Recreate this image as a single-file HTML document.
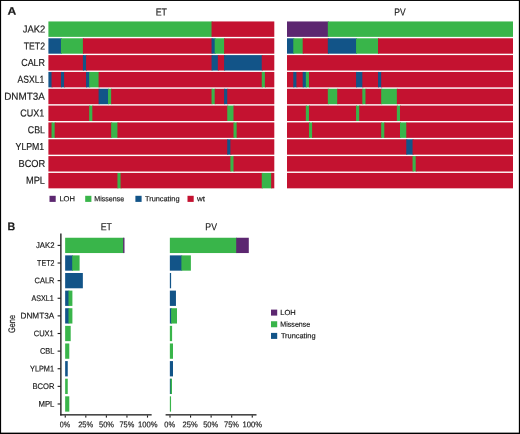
<!DOCTYPE html>
<html>
<head>
<meta charset="utf-8">
<title>Figure</title>
<style>
html, body { margin: 0; padding: 0; background: #ffffff; }
body { width: 520px; height: 434px; overflow: hidden; font-family: "Liberation Sans", sans-serif; }
svg { will-change: transform; display: block; position: absolute; left: 0; top: 0; }
svg text { text-rendering: geometricPrecision; font-family: "Liberation Sans", sans-serif; fill: #1a1a1a; stroke: #1a1a1a; stroke-width: 0.18px; }
</style>
</head>
<body>
<svg width="520" height="434" viewBox="0 0 520 434">
<rect x="0" y="0" width="520" height="434" fill="#ffffff"/>
<g shape-rendering="auto">
<rect x="48.4" y="21.45" width="164.15" height="15.42" fill="#39b54a"/>
<rect x="211.55" y="21.45" width="62.75" height="15.42" fill="#c41230"/>
<rect x="48.4" y="38.28" width="13.55" height="15.42" fill="#125488"/>
<rect x="60.95" y="38.28" width="22.96" height="15.42" fill="#39b54a"/>
<rect x="82.91" y="38.28" width="129.64" height="15.42" fill="#c41230"/>
<rect x="211.55" y="38.28" width="4.14" height="15.42" fill="#125488"/>
<rect x="214.69" y="38.28" width="10.41" height="15.42" fill="#39b54a"/>
<rect x="224.1" y="38.28" width="50.2" height="15.42" fill="#c41230"/>
<rect x="48.4" y="55.11" width="35.51" height="15.42" fill="#c41230"/>
<rect x="82.91" y="55.11" width="4.14" height="15.42" fill="#125488"/>
<rect x="86.05" y="55.11" width="126.5" height="15.42" fill="#c41230"/>
<rect x="211.55" y="55.11" width="7.28" height="15.42" fill="#125488"/>
<rect x="217.83" y="55.11" width="7.28" height="15.42" fill="#c41230"/>
<rect x="224.1" y="55.11" width="38.65" height="15.42" fill="#125488"/>
<rect x="261.75" y="55.11" width="12.55" height="15.42" fill="#c41230"/>
<rect x="48.4" y="71.94" width="4.14" height="15.42" fill="#125488"/>
<rect x="51.54" y="71.94" width="10.41" height="15.42" fill="#c41230"/>
<rect x="60.95" y="71.94" width="4.14" height="15.42" fill="#125488"/>
<rect x="64.09" y="71.94" width="22.96" height="15.42" fill="#c41230"/>
<rect x="86.05" y="71.94" width="4.14" height="15.42" fill="#125488"/>
<rect x="89.19" y="71.94" width="10.41" height="15.42" fill="#39b54a"/>
<rect x="98.6" y="71.94" width="164.15" height="15.42" fill="#c41230"/>
<rect x="261.75" y="71.94" width="4.14" height="15.42" fill="#39b54a"/>
<rect x="264.89" y="71.94" width="9.41" height="15.42" fill="#c41230"/>
<rect x="48.4" y="88.77" width="51.2" height="15.42" fill="#c41230"/>
<rect x="98.6" y="88.77" width="10.41" height="15.42" fill="#125488"/>
<rect x="108.01" y="88.77" width="4.14" height="15.42" fill="#39b54a"/>
<rect x="111.15" y="88.77" width="101.4" height="15.42" fill="#c41230"/>
<rect x="211.55" y="88.77" width="4.14" height="15.42" fill="#39b54a"/>
<rect x="214.69" y="88.77" width="10.41" height="15.42" fill="#c41230"/>
<rect x="224.1" y="88.77" width="4.14" height="15.42" fill="#125488"/>
<rect x="227.24" y="88.77" width="47.06" height="15.42" fill="#c41230"/>
<rect x="48.4" y="105.6" width="41.79" height="15.42" fill="#c41230"/>
<rect x="89.19" y="105.6" width="4.14" height="15.42" fill="#39b54a"/>
<rect x="92.33" y="105.6" width="135.91" height="15.42" fill="#c41230"/>
<rect x="227.24" y="105.6" width="7.28" height="15.42" fill="#39b54a"/>
<rect x="233.51" y="105.6" width="40.79" height="15.42" fill="#c41230"/>
<rect x="48.4" y="122.43" width="4.14" height="15.42" fill="#c41230"/>
<rect x="51.54" y="122.43" width="4.14" height="15.42" fill="#39b54a"/>
<rect x="54.67" y="122.43" width="57.48" height="15.42" fill="#c41230"/>
<rect x="111.15" y="122.43" width="7.28" height="15.42" fill="#39b54a"/>
<rect x="117.43" y="122.43" width="117.09" height="15.42" fill="#c41230"/>
<rect x="233.51" y="122.43" width="4.14" height="15.42" fill="#39b54a"/>
<rect x="236.65" y="122.43" width="37.65" height="15.42" fill="#c41230"/>
<rect x="48.4" y="139.26" width="179.84" height="15.42" fill="#c41230"/>
<rect x="227.24" y="139.26" width="4.14" height="15.42" fill="#125488"/>
<rect x="230.38" y="139.26" width="43.92" height="15.42" fill="#c41230"/>
<rect x="48.4" y="156.09" width="182.98" height="15.42" fill="#c41230"/>
<rect x="230.38" y="156.09" width="4.14" height="15.42" fill="#39b54a"/>
<rect x="233.51" y="156.09" width="40.79" height="15.42" fill="#c41230"/>
<rect x="48.4" y="172.92" width="70.03" height="15.42" fill="#c41230"/>
<rect x="117.43" y="172.92" width="4.14" height="15.42" fill="#39b54a"/>
<rect x="120.56" y="172.92" width="142.19" height="15.42" fill="#c41230"/>
<rect x="261.75" y="172.92" width="10.41" height="15.42" fill="#39b54a"/>
<rect x="271.16" y="172.92" width="3.14" height="15.42" fill="#c41230"/>
<rect x="287" y="21.45" width="41.81" height="15.42" fill="#5c2770"/>
<rect x="327.81" y="21.45" width="185.19" height="15.42" fill="#39b54a"/>
<rect x="287" y="38.28" width="7.28" height="15.42" fill="#125488"/>
<rect x="293.28" y="38.28" width="10.42" height="15.42" fill="#39b54a"/>
<rect x="302.69" y="38.28" width="26.11" height="15.42" fill="#c41230"/>
<rect x="327.81" y="38.28" width="29.25" height="15.42" fill="#125488"/>
<rect x="356.06" y="38.28" width="22.97" height="15.42" fill="#39b54a"/>
<rect x="378.03" y="38.28" width="134.97" height="15.42" fill="#c41230"/>
<rect x="287" y="55.11" width="226" height="15.42" fill="#c41230"/>
<rect x="287" y="71.94" width="7.28" height="15.42" fill="#c41230"/>
<rect x="293.28" y="71.94" width="4.14" height="15.42" fill="#125488"/>
<rect x="296.42" y="71.94" width="7.28" height="15.42" fill="#c41230"/>
<rect x="302.69" y="71.94" width="4.14" height="15.42" fill="#125488"/>
<rect x="305.83" y="71.94" width="4.14" height="15.42" fill="#39b54a"/>
<rect x="308.97" y="71.94" width="48.08" height="15.42" fill="#c41230"/>
<rect x="356.06" y="71.94" width="7.28" height="15.42" fill="#125488"/>
<rect x="362.33" y="71.94" width="16.69" height="15.42" fill="#c41230"/>
<rect x="378.03" y="71.94" width="4.14" height="15.42" fill="#125488"/>
<rect x="381.17" y="71.94" width="131.83" height="15.42" fill="#c41230"/>
<rect x="287" y="88.77" width="41.81" height="15.42" fill="#c41230"/>
<rect x="327.81" y="88.77" width="10.42" height="15.42" fill="#39b54a"/>
<rect x="337.22" y="88.77" width="26.11" height="15.42" fill="#c41230"/>
<rect x="362.33" y="88.77" width="4.14" height="15.42" fill="#39b54a"/>
<rect x="365.47" y="88.77" width="16.69" height="15.42" fill="#c41230"/>
<rect x="381.17" y="88.77" width="16.69" height="15.42" fill="#39b54a"/>
<rect x="396.86" y="88.77" width="116.14" height="15.42" fill="#c41230"/>
<rect x="287" y="105.6" width="19.83" height="15.42" fill="#c41230"/>
<rect x="305.83" y="105.6" width="4.14" height="15.42" fill="#39b54a"/>
<rect x="308.97" y="105.6" width="48.08" height="15.42" fill="#c41230"/>
<rect x="356.06" y="105.6" width="4.14" height="15.42" fill="#39b54a"/>
<rect x="359.19" y="105.6" width="38.67" height="15.42" fill="#c41230"/>
<rect x="396.86" y="105.6" width="4.14" height="15.42" fill="#39b54a"/>
<rect x="400" y="105.6" width="113" height="15.42" fill="#c41230"/>
<rect x="287" y="122.43" width="22.97" height="15.42" fill="#c41230"/>
<rect x="308.97" y="122.43" width="4.14" height="15.42" fill="#39b54a"/>
<rect x="312.11" y="122.43" width="70.06" height="15.42" fill="#c41230"/>
<rect x="381.17" y="122.43" width="4.14" height="15.42" fill="#39b54a"/>
<rect x="384.31" y="122.43" width="16.69" height="15.42" fill="#c41230"/>
<rect x="400" y="122.43" width="7.28" height="15.42" fill="#39b54a"/>
<rect x="406.28" y="122.43" width="106.72" height="15.42" fill="#c41230"/>
<rect x="287" y="139.26" width="120.28" height="15.42" fill="#c41230"/>
<rect x="406.28" y="139.26" width="7.28" height="15.42" fill="#125488"/>
<rect x="412.56" y="139.26" width="100.44" height="15.42" fill="#c41230"/>
<rect x="287" y="156.09" width="126.56" height="15.42" fill="#c41230"/>
<rect x="412.56" y="156.09" width="4.14" height="15.42" fill="#39b54a"/>
<rect x="415.69" y="156.09" width="97.31" height="15.42" fill="#c41230"/>
<rect x="287" y="172.92" width="226" height="15.42" fill="#c41230"/>
</g>
<text x="7.51" y="14.85" transform="rotate(0.05 7.51 14.85)" font-size="11" font-weight="bold" textLength="8.758" lengthAdjust="spacingAndGlyphs">A</text>
<text x="7.382" y="230.15" transform="rotate(0.05 7.382 230.15)" font-size="11.2" font-weight="bold" textLength="7.709" lengthAdjust="spacingAndGlyphs">B</text>
<text x="155.698" y="15.4" transform="rotate(0.05 155.698 15.4)" font-size="10.1" textLength="11.283" lengthAdjust="spacingAndGlyphs">ET</text>
<text x="394.297" y="15.4" transform="rotate(0.05 394.297 15.4)" font-size="10.1" textLength="11.237" lengthAdjust="spacingAndGlyphs">PV</text>
<text x="22.741" y="32.55" transform="rotate(0.05 22.741 32.55)" font-size="10.1" textLength="22.523" lengthAdjust="spacingAndGlyphs">JAK2</text>
<text x="23.741" y="49.4" transform="rotate(0.05 23.741 49.4)" font-size="10.1" textLength="21.271" lengthAdjust="spacingAndGlyphs">TET2</text>
<text x="21.233" y="66.05" transform="rotate(0.05 21.233 66.05)" font-size="10.1" textLength="23.783" lengthAdjust="spacingAndGlyphs">CALR</text>
<text x="17.493" y="82.85" transform="rotate(0.05 17.493 82.85)" font-size="10.1" textLength="26.764" lengthAdjust="spacingAndGlyphs">ASXL1</text>
<text x="4.234" y="99.7" transform="rotate(0.05 4.234 99.7)" font-size="10.1" textLength="40.524" lengthAdjust="spacingAndGlyphs">DNMT3A</text>
<text x="20.295" y="116.55" transform="rotate(0.05 20.295 116.55)" font-size="10.1" textLength="23.972" lengthAdjust="spacingAndGlyphs">CUX1</text>
<text x="27.78" y="133.2" transform="rotate(0.05 27.78 133.2)" font-size="10.1" textLength="17.237" lengthAdjust="spacingAndGlyphs">CBL</text>
<text x="15.562" y="150.05" transform="rotate(0.05 15.562 150.05)" font-size="10.1" textLength="28.698" lengthAdjust="spacingAndGlyphs">YLPM1</text>
<text x="18.462" y="167" transform="rotate(0.05 18.462 167)" font-size="10.1" textLength="26.814" lengthAdjust="spacingAndGlyphs">BCOR</text>
<text x="26.01" y="183.8" transform="rotate(0.05 26.01 183.8)" font-size="10.1" textLength="19.028" lengthAdjust="spacingAndGlyphs">MPL</text>
<rect x="49.5" y="195.8" width="6.2" height="6.1" fill="#5c2770"/>
<text x="59.418" y="201.35" transform="rotate(0.05 59.418 201.35)" font-size="7.4" textLength="15.592" lengthAdjust="spacingAndGlyphs">LOH</text>
<rect x="85.2" y="195.8" width="6.2" height="6.1" fill="#39b54a"/>
<text x="94.219" y="201.35" transform="rotate(0.05 94.219 201.35)" font-size="7.4" textLength="30.051" lengthAdjust="spacingAndGlyphs">Missense</text>
<rect x="135.4" y="195.8" width="6.2" height="6.1" fill="#125488"/>
<text x="144.994" y="201.35" transform="rotate(0.05 144.994 201.35)" font-size="7.4" textLength="34.513" lengthAdjust="spacingAndGlyphs">Truncating</text>
<rect x="187.5" y="195.8" width="6.2" height="6.1" fill="#c41230"/>
<text x="197.057" y="201.35" transform="rotate(0.05 197.057 201.35)" font-size="7.4" textLength="7.952" lengthAdjust="spacingAndGlyphs">wt</text>
<rect x="65.15" y="237.75" width="58.8" height="15.3" fill="#39b54a"/>
<rect x="123.15" y="237.75" width="1.35" height="15.3" fill="#5c2770"/>
<rect x="65.15" y="255.37" width="7.85" height="15.3" fill="#125488"/>
<rect x="72.2" y="255.37" width="7.4" height="15.3" fill="#39b54a"/>
<rect x="65.15" y="272.99" width="17.7" height="15.3" fill="#125488"/>
<rect x="65.15" y="290.61" width="4.15" height="15.3" fill="#125488"/>
<rect x="68.5" y="290.61" width="3.9" height="15.3" fill="#39b54a"/>
<rect x="65.15" y="308.23" width="4.15" height="15.3" fill="#125488"/>
<rect x="68.5" y="308.23" width="3.9" height="15.3" fill="#39b54a"/>
<rect x="65.15" y="325.85" width="5.55" height="15.3" fill="#39b54a"/>
<rect x="65.15" y="343.47" width="4.15" height="15.3" fill="#39b54a"/>
<rect x="65.15" y="361.09" width="2.6" height="15.3" fill="#125488"/>
<rect x="65.15" y="378.71" width="2.6" height="15.3" fill="#39b54a"/>
<rect x="65.15" y="396.33" width="4.15" height="15.3" fill="#39b54a"/>
<rect x="169.85" y="237.75" width="67.15" height="15.3" fill="#39b54a"/>
<rect x="236.2" y="237.75" width="12.6" height="15.3" fill="#5c2770"/>
<rect x="169.85" y="255.37" width="12.35" height="15.3" fill="#125488"/>
<rect x="181.4" y="255.37" width="9.5" height="15.3" fill="#39b54a"/>
<rect x="169.85" y="272.99" width="1.25" height="15.3" fill="#125488"/>
<rect x="169.85" y="290.61" width="6.1" height="15.3" fill="#125488"/>
<rect x="169.85" y="308.23" width="2.05" height="15.3" fill="#125488"/>
<rect x="171.1" y="308.23" width="5.9" height="15.3" fill="#39b54a"/>
<rect x="169.85" y="325.85" width="2.25" height="15.3" fill="#39b54a"/>
<rect x="169.85" y="343.47" width="3.15" height="15.3" fill="#39b54a"/>
<rect x="169.85" y="361.09" width="3.15" height="15.3" fill="#125488"/>
<rect x="169.85" y="378.71" width="1.45" height="15.3" fill="#125488"/>
<rect x="170.5" y="378.71" width="1.5" height="15.3" fill="#39b54a"/>
<rect x="169.85" y="396.33" width="1.2" height="15.3" fill="#39b54a"/>
<rect x="60.2" y="233.5" width="1.35" height="182.0" fill="#1c1c1c"/>
<rect x="60.2" y="414.2" width="91.45" height="1.3" fill="#1c1c1c"/>
<rect x="165.6" y="414.2" width="90.9" height="1.3" fill="#1c1c1c"/>
<rect x="57.6" y="244.85" width="3" height="1.1" fill="#1c1c1c"/>
<rect x="57.6" y="262.47" width="3" height="1.1" fill="#1c1c1c"/>
<rect x="57.6" y="280.09" width="3" height="1.1" fill="#1c1c1c"/>
<rect x="57.6" y="297.71" width="3" height="1.1" fill="#1c1c1c"/>
<rect x="57.6" y="315.33" width="3" height="1.1" fill="#1c1c1c"/>
<rect x="57.6" y="332.95" width="3" height="1.1" fill="#1c1c1c"/>
<rect x="57.6" y="350.57" width="3" height="1.1" fill="#1c1c1c"/>
<rect x="57.6" y="368.19" width="3" height="1.1" fill="#1c1c1c"/>
<rect x="57.6" y="385.81" width="3" height="1.1" fill="#1c1c1c"/>
<rect x="57.6" y="403.43" width="3" height="1.1" fill="#1c1c1c"/>
<rect x="64.7" y="415.4" width="1.1" height="2.2" fill="#1c1c1c"/>
<rect x="85.26" y="415.4" width="1.1" height="2.2" fill="#1c1c1c"/>
<rect x="105.83" y="415.4" width="1.1" height="2.2" fill="#1c1c1c"/>
<rect x="126.39" y="415.4" width="1.1" height="2.2" fill="#1c1c1c"/>
<rect x="146.95" y="415.4" width="1.1" height="2.2" fill="#1c1c1c"/>
<rect x="169.45" y="415.4" width="1.1" height="2.2" fill="#1c1c1c"/>
<rect x="190.01" y="415.4" width="1.1" height="2.2" fill="#1c1c1c"/>
<rect x="210.57" y="415.4" width="1.1" height="2.2" fill="#1c1c1c"/>
<rect x="231.14" y="415.4" width="1.1" height="2.2" fill="#1c1c1c"/>
<rect x="251.7" y="415.4" width="1.1" height="2.2" fill="#1c1c1c"/>
<text x="59.742" y="427.3" transform="rotate(0.05 59.742 427.3)" font-size="8.2" textLength="10.315" lengthAdjust="spacingAndGlyphs">0%</text>
<text x="164.288" y="427.3" transform="rotate(0.05 164.288 427.3)" font-size="8.2" textLength="10.78" lengthAdjust="spacingAndGlyphs">0%</text>
<text x="78.23" y="427.3" transform="rotate(0.05 78.23 427.3)" font-size="8.2" textLength="14.935" lengthAdjust="spacingAndGlyphs">25%</text>
<text x="182.585" y="427.3" transform="rotate(0.05 182.585 427.3)" font-size="8.2" textLength="15.175" lengthAdjust="spacingAndGlyphs">25%</text>
<text x="98.977" y="427.3" transform="rotate(0.05 98.977 427.3)" font-size="8.2" textLength="15.032" lengthAdjust="spacingAndGlyphs">50%</text>
<text x="203.23" y="427.3" transform="rotate(0.05 203.23 427.3)" font-size="8.2" textLength="14.935" lengthAdjust="spacingAndGlyphs">50%</text>
<text x="119.477" y="427.3" transform="rotate(0.05 119.477 427.3)" font-size="8.2" textLength="14.782" lengthAdjust="spacingAndGlyphs">75%</text>
<text x="224.084" y="427.3" transform="rotate(0.05 224.084 427.3)" font-size="8.2" textLength="14.926" lengthAdjust="spacingAndGlyphs">75%</text>
<text x="137.965" y="427.3" transform="rotate(0.05 137.965 427.3)" font-size="8.2" textLength="19.546" lengthAdjust="spacingAndGlyphs">100%</text>
<text x="242.516" y="427.3" transform="rotate(0.05 242.516 427.3)" font-size="8.2" textLength="19.453" lengthAdjust="spacingAndGlyphs">100%</text>
<text x="100.705" y="230.25" transform="rotate(0.05 100.705 230.25)" font-size="10.2" textLength="11.279" lengthAdjust="spacingAndGlyphs">ET</text>
<text x="205.333" y="230.2" transform="rotate(0.05 205.333 230.2)" font-size="10.2" textLength="11.61" lengthAdjust="spacingAndGlyphs">PV</text>
<text x="35.941" y="248.1" transform="rotate(0.05 35.941 248.1)" font-size="8.2" textLength="18.5" lengthAdjust="spacingAndGlyphs">JAK2</text>
<text x="37.121" y="265.72" transform="rotate(0.05 37.121 265.72)" font-size="8.2" textLength="17.308" lengthAdjust="spacingAndGlyphs">TET2</text>
<text x="34.521" y="283.34" transform="rotate(0.05 34.521 283.34)" font-size="8.2" textLength="19.904" lengthAdjust="spacingAndGlyphs">CALR</text>
<text x="31.526" y="300.96" transform="rotate(0.05 31.526 300.96)" font-size="8.2" textLength="22.232" lengthAdjust="spacingAndGlyphs">ASXL1</text>
<text x="20.532" y="318.58" transform="rotate(0.05 20.532 318.58)" font-size="8.2" textLength="33.621" lengthAdjust="spacingAndGlyphs">DNMT3A</text>
<text x="33.763" y="336.2" transform="rotate(0.05 33.763 336.2)" font-size="8.2" textLength="20.014" lengthAdjust="spacingAndGlyphs">CUX1</text>
<text x="40.021" y="353.82" transform="rotate(0.05 40.021 353.82)" font-size="8.2" textLength="14.401" lengthAdjust="spacingAndGlyphs">CBL</text>
<text x="30.029" y="371.44" transform="rotate(0.05 30.029 371.44)" font-size="8.2" textLength="23.982" lengthAdjust="spacingAndGlyphs">YLPM1</text>
<text x="32.427" y="389.06" transform="rotate(0.05 32.427 389.06)" font-size="8.2" textLength="22.004" lengthAdjust="spacingAndGlyphs">BCOR</text>
<text x="38.516" y="406.68" transform="rotate(0.05 38.516 406.68)" font-size="8.2" textLength="15.904" lengthAdjust="spacingAndGlyphs">MPL</text>
<text transform="translate(15.3,333.0) rotate(-90)" font-size="9.5" textLength="18.0" lengthAdjust="spacingAndGlyphs">Gene</text>
<rect x="271" y="309.6" width="6.2" height="6.0" fill="#5c2770"/>
<text x="280.286" y="315.05" transform="rotate(0.05 280.286 315.05)" font-size="7.4" textLength="15.481" lengthAdjust="spacingAndGlyphs">LOH</text>
<rect x="271" y="321.25" width="6.2" height="6.0" fill="#39b54a"/>
<text x="280.358" y="326.7" transform="rotate(0.05 280.358 326.7)" font-size="7.4" textLength="29.901" lengthAdjust="spacingAndGlyphs">Missense</text>
<rect x="271" y="332.9" width="6.2" height="6.0" fill="#125488"/>
<text x="280.877" y="338.35" transform="rotate(0.05 280.877 338.35)" font-size="7.4" textLength="34.633" lengthAdjust="spacingAndGlyphs">Truncating</text>
<!-- frame -->
<rect x="0" y="0" width="520" height="0.95" fill="#000"/>
<rect x="0" y="0" width="1.1" height="434" fill="#000"/>
<rect x="518.85" y="0" width="1.15" height="434" fill="#000"/>
<rect x="0" y="432.62" width="520" height="1.38" fill="#000"/>
</svg>
</body>
</html>
